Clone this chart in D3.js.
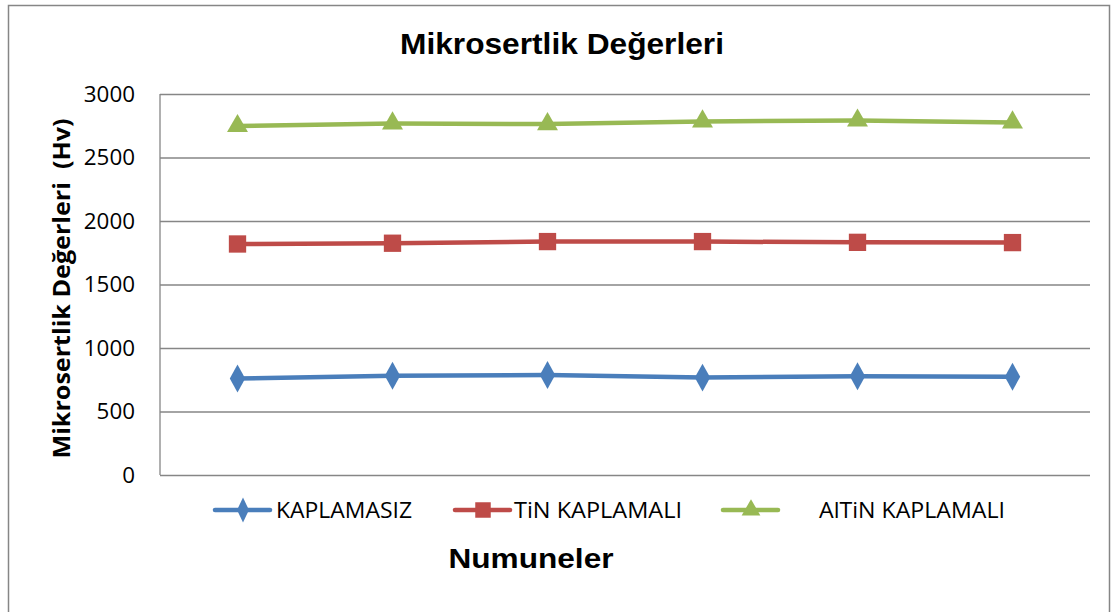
<!DOCTYPE html>
<html>
<head>
<meta charset="utf-8">
<script src="https://cdn.jsdelivr.net/npm/d3@7"></script>
<style>
  body { margin: 0; background: #fff; }
  text { font-family: "Open Sans", "Noto Sans", sans-serif; fill: #000; }
  .arial { font-family: "Liberation Sans", Arial, sans-serif; }
</style>
</head>
<body>
<div id="chart"></div>
<script>
// data
const samples = ["1", "2", "3", "4", "5", "6"];
const kaplamasiz = [760, 782, 787, 767, 777, 774];
const tinKaplamali = [1819, 1825, 1838, 1838, 1832, 1830];
const altinKaplamali = [2748, 2768, 2763, 2784, 2791, 2776];
const yTicks = [0, 500, 1000, 1500, 2000, 2500, 3000];
const seriesNames = ["KAPLAMASIZ", "TiN KAPLAMALI", "AlTiN KAPLAMALI"];

const W = 1118, H = 612;
const margin = { top: 94, right: 28, bottom: 137, left: 160 };
const width = W - margin.left - margin.right;
const height = H - margin.top - margin.bottom;

const svg = d3.select("#chart")
  .append("svg")
  .attr("width", W)
  .attr("height", H);

// outer frame
svg.append("rect")
  .attr("x", 8.5).attr("y", 5.5)
  .attr("width", 1101).attr("height", 620)
  .attr("fill", "none")
  .attr("stroke", "#868686")
  .attr("stroke-width", 1.5);

const g = svg.append("g")
  .attr("transform", "translate(" + margin.left + "," + margin.top + ")");

const x = d3.scaleBand().domain(samples).range([0, width]);
const y = d3.scaleLinear().domain([0, 3000]).range([height, 0]);

// gridlines
g.append("g")
  .call(d3.axisLeft(y).tickValues(yTicks).tickSize(-width).tickFormat(""))
  .call(a => a.select(".domain").remove())
  .selectAll("line")
  .attr("stroke", "#868686")
  .attr("stroke-width", 1.3);

// axis line
g.append("line")
  .attr("x1", 0).attr("x2", 0).attr("y1", 0).attr("y2", height)
  .attr("stroke", "#868686").attr("stroke-width", 1.3);

// tick labels
g.selectAll(".ytick")
  .data(yTicks)
  .enter().append("text")
  .attr("class", "ytick")
  .attr("x", -25)
  .attr("y", d => y(d))
  .attr("dy", "0.36em")
  .attr("text-anchor", "end")
  .attr("textLength", d => String(d).length * 12.8)
  .attr("lengthAdjust", "spacingAndGlyphs")
  .style("font-size", "21px")
  .text(d => d);

const series = [
  { name: seriesNames[0], values: kaplamasiz, color: "#4a7ebb", marker: d3.symbolDiamond, size: 170 },
  { name: seriesNames[1], values: tinKaplamali, color: "#be4b48", marker: d3.symbolSquare, size: 300 },
  { name: seriesNames[2], values: altinKaplamali, color: "#98b954", marker: d3.symbolTriangle, size: 190 }
];

const line = d3.line()
  .x((d, i) => x(samples[i]) + x.bandwidth() / 2)
  .y(d => y(d));

series.forEach(function(s) {
  g.append("path")
    .datum(s.values)
    .attr("d", line)
    .attr("fill", "none")
    .attr("stroke", s.color)
    .attr("stroke-width", 4.5)
    .attr("stroke-linejoin", "round");

  g.selectAll(null)
    .data(s.values)
    .enter().append("path")
    .attr("d", d3.symbol().type(s.marker).size(s.size))
    .attr("transform", (d, i) => "translate(" + (x(samples[i]) + x.bandwidth() / 2) + "," + y(d) + ")" +
      (s.marker === d3.symbolDiamond ? " scale(1.1,1.15)" : ""))
    .attr("fill", s.color);
});

// title
svg.append("text")
  .attr("class", "arial")
  .attr("x", 562).attr("y", 54)
  .attr("text-anchor", "middle")
  .attr("textLength", 324)
  .attr("lengthAdjust", "spacingAndGlyphs")
  .style("font-size", "29px")
  .style("font-weight", "bold")
  .text("Mikrosertlik Değerleri");

// y axis title
svg.append("text")
  .attr("transform", "translate(70," + (margin.top + height / 2 + 4) + ") rotate(-90)")
  .attr("text-anchor", "middle")
  .attr("textLength", 340)
  .attr("lengthAdjust", "spacingAndGlyphs")
  .style("font-size", "23px")
  .style("font-weight", "bold")
  .style("white-space", "pre")
  .text("Mikrosertlik Değerleri  (Hv)");

// x axis title
svg.append("text")
  .attr("class", "arial")
  .attr("x", 531).attr("y", 568)
  .attr("text-anchor", "middle")
  .attr("textLength", 165)
  .attr("lengthAdjust", "spacingAndGlyphs")
  .style("font-size", "27px")
  .style("font-weight", "bold")
  .text("Numuneler");

// legend
const legendItems = [
  { s: series[0], x0: 215, tx: 276, tw: 136, label: seriesNames[0] },
  { s: series[1], x0: 455, tx: 514, tw: 168, label: seriesNames[1] },
  { s: series[2], x0: 723, tx: 819, tw: 186, label: seriesNames[2] }
];
const legend = svg.append("g").attr("transform", "translate(0,510)");
legendItems.forEach(function(it) {
  legend.append("line")
    .attr("x1", it.x0).attr("x2", it.x0 + 55)
    .attr("stroke", it.s.color).attr("stroke-width", 4.5)
    .attr("stroke-linecap", "round");
  legend.append("path")
    .attr("d", d3.symbol().type(it.s.marker).size(it.s.size * 0.8))
    .attr("transform", "translate(" + (it.x0 + 28) + ",0)" +
      (it.s.marker === d3.symbolDiamond ? " scale(0.95,1.15)" : ""))
    .attr("fill", it.s.color);
  legend.append("text")
    .attr("x", it.tx).attr("y", 8)
    .attr("textLength", it.tw)
    .attr("lengthAdjust", "spacingAndGlyphs")
    .style("font-size", "21px")
    .text(it.label);
});
</script>
</body>
</html>
